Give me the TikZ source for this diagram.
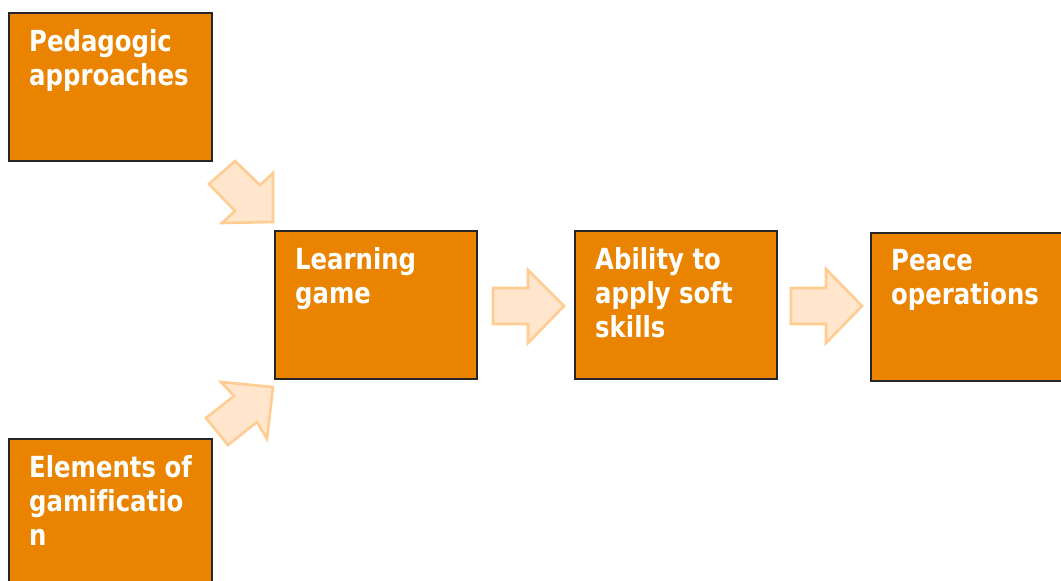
\documentclass[tikz,border=0pt]{standalone}
\usepackage{fontspec}
\newfontfamily\boxfont{DejaVu Sans}[FakeStretch=0.84,Ligatures=NoCommon]
\definecolor{boxorange}{RGB}{233,131,0}
\definecolor{arrowfill}{RGB}{255,230,204}
\definecolor{arrowline}{RGB}{255,204,145}
\tikzset{
  stagebox/.style={draw=black!85, line width=1.2pt, fill=boxorange},
  stagetext/.style={anchor=north west, inner sep=0pt, align=left, text=white,
    font=\boxfont\bfseries\fontsize{29}{34}\selectfont},
  blockarrow/.style={fill=arrowfill, draw=arrowline, line width=2.6pt, line join=miter}
}
\begin{document}
\begin{tikzpicture}[x=1pt,y=-1pt]
\useasboundingbox (0,0) rectangle (1061,581);
\clip (0,0) rectangle (1061,581);
\fill[white] (0,0) rectangle (1061,581);

% stage boxes
\draw[stagebox] (9,13) rectangle (212,161);
\draw[stagebox] (9,439) rectangle (212,595);
\draw[stagebox] (275,231) rectangle (477,379);
\draw[stagebox] (575,231) rectangle (777,379);
\draw[stagebox] (871,233) rectangle (1075,381);

% box captions
\node[stagetext] (ped) at (29,29) {Pedagogic\\approaches};
\node[stagetext] (elem) at (29,455) {Elements of\\gamificatio\\n};
\node[stagetext] (learn) at (295,247) {Learning\\game};
\node[stagetext] (abil) at (595,247) {Ability to\\apply soft\\skills};
\node[stagetext] (peace) at (891,249) {Peace\\operations};

% block arrows between stages
\draw[blockarrow] (209,184) -- (235,161) -- (260,185) -- (273,173) -- (273,222)
  -- (222,223) -- (235,211) -- cycle;
\draw[blockarrow] (206,418) -- (234,396) -- (221,382) -- (273,387) -- (267,439)
  -- (257,422) -- (228,445) -- cycle;
\draw[blockarrow] (493,288) -- (528,288) -- (528,270) -- (564,306) -- (528,343)
  -- (528,324) -- (493,324) -- cycle;
\draw[blockarrow] (791,288) -- (826,288) -- (826,269) -- (862,306) -- (826,343)
  -- (826,324) -- (791,324) -- cycle;
\end{tikzpicture}
\end{document}
